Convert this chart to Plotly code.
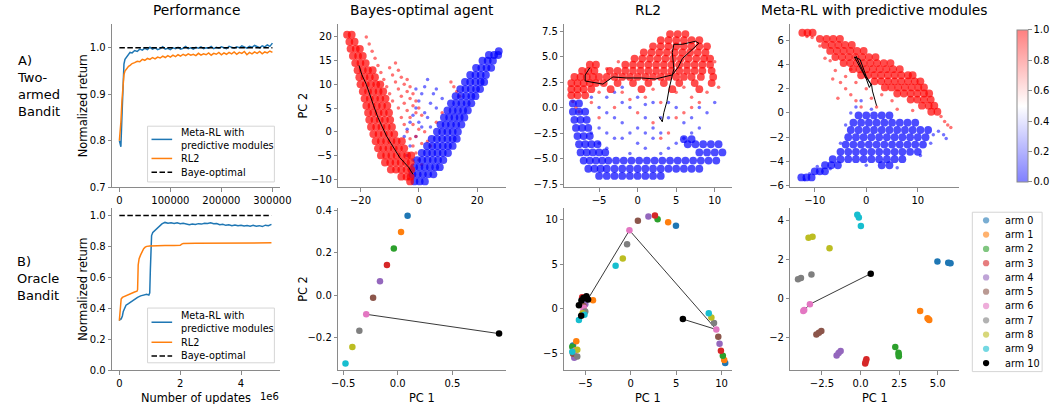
import plotly.graph_objects as go

W, H = 1060, 404
FONT = "DejaVu Sans"
SPINE = "#8a8a8a"


def px(x):
    return x / W


def py(y):
    return 1 - y / H


# ---------------- DATA ----------------
# A1: two-armed bandit performance (x = number of updates)
a1_x = [0, 1500, 3000, 5000, 7000, 9000, 11000, 13000, 15000, 18000, 21000, 25000, 30000, 35000, 40000] + list(range(45000, 300001, 5000))
a1_meta = [0.800, 0.790, 0.787, 0.850, 0.930, 0.965, 0.975, 0.978, 0.982, 0.986, 0.990, 0.989, 0.994, 0.992, 0.997,
           0.995, 0.999, 0.996, 1.001, 0.997, 1.000, 0.996, 0.998, 1.002, 0.997, 0.999, 0.996, 1.000, 0.998, 1.001,
           0.997, 0.999, 1.003, 0.998, 1.000, 0.997, 1.001, 0.999, 1.002, 0.998, 1.000, 0.999, 1.003, 0.998, 1.001,
           0.999, 1.002, 1.000, 0.998, 1.003, 1.001, 0.999, 1.002, 1.000, 1.004, 1.001, 0.999, 1.003, 1.001, 1.005,
           1.002, 1.000, 1.004, 1.002, 1.006, 1.003, 1.010]
a1_rl2 = [0.800, 0.815, 0.840, 0.885, 0.925, 0.942, 0.950, 0.953, 0.957, 0.960, 0.962, 0.966, 0.968, 0.971, 0.970,
          0.975, 0.973, 0.977, 0.975, 0.979, 0.976, 0.980, 0.978, 0.982, 0.979, 0.983, 0.980, 0.984, 0.981, 0.985,
          0.982, 0.986, 0.983, 0.987, 0.984, 0.986, 0.983, 0.988, 0.984, 0.987, 0.985, 0.989, 0.984, 0.988, 0.986,
          0.990, 0.985, 0.989, 0.986, 0.990, 0.987, 0.991, 0.986, 0.990, 0.988, 0.992, 0.985, 0.990, 0.987, 0.991,
          0.988, 0.992, 0.987, 0.991, 0.989, 0.993, 0.990]
a1_opt_x = [0, 300000]
a1_opt_y = [1.0, 1.0]

# B1: oracle bandit performance (x in millions of updates)
b1_meta_x = [0, 0.03, 0.06, 0.1, 0.13, 0.17, 0.22, 0.3, 0.4, 0.5, 0.6, 0.7, 0.8, 0.9, 0.97, 1.0, 1.02, 1.04, 1.06, 1.1,
             1.2, 1.3, 1.4, 1.5, 1.6, 1.7, 1.8, 1.9, 2.0, 2.1, 2.2, 2.3, 2.4, 2.5, 2.6, 2.7, 2.8, 2.9, 3.0, 3.1,
             3.2, 3.3, 3.4, 3.5, 3.6, 3.7, 3.8, 3.9, 4.0, 4.1, 4.2, 4.3, 4.4, 4.5, 4.6, 4.7, 4.8, 4.9, 5.0]
b1_meta_y = [0.32, 0.33, 0.33, 0.35, 0.38, 0.40, 0.42, 0.43, 0.445, 0.46, 0.47, 0.48, 0.485, 0.49, 0.485, 0.50, 0.65, 0.80, 0.87, 0.89,
             0.91, 0.93, 0.945, 0.955, 0.950, 0.952, 0.948, 0.953, 0.946, 0.950, 0.944, 0.940, 0.945, 0.942, 0.947, 0.944, 0.950, 0.948, 0.952, 0.946,
             0.948, 0.940, 0.943, 0.936, 0.940, 0.934, 0.938, 0.933, 0.937, 0.932, 0.935, 0.931, 0.936, 0.930, 0.934, 0.928, 0.937, 0.933, 0.942]
b1_rl2_x = [0, 0.03, 0.06, 0.1, 0.2, 0.3, 0.4, 0.5, 0.58, 0.6, 0.62, 0.65, 0.7, 0.75, 0.8, 0.85, 0.9, 1.0, 1.2, 1.5,
            1.8, 2.0, 2.05, 2.1, 2.5, 3.0, 3.5, 4.0, 4.5, 5.0]
b1_rl2_y = [0.32, 0.40, 0.46, 0.47, 0.48, 0.49, 0.50, 0.505, 0.51, 0.52, 0.68, 0.72, 0.745, 0.77, 0.785, 0.795, 0.80, 0.803, 0.805, 0.806,
            0.806, 0.807, 0.815, 0.818, 0.820, 0.821, 0.822, 0.822, 0.822, 0.823]
b1_opt_x = [0, 5.0]
b1_opt_y = [1.0, 1.0]

# A2: Bayes-optimal agent hidden-state PCA; dense cores given as (PC2, [PC1 ...]) rows
a2_red_dense = [(20.5, [-24.6, -23.0]), (19.0, [-23.8, -22.0]), (17.5, [-23.4, -21.6, -20.2]),
                (16.0, [-22.6, -20.8, -19.2]), (14.5, [-21.8, -20.0, -18.2]), (13.0, [-21.0, -19.2, -17.4, -15.8]),
                (11.5, [-20.4, -18.6, -16.8, -15.0]), (10.0, [-20.0, -18.2, -16.4, -14.6, -13.2]),
                (8.5, [-19.2, -17.4, -15.6, -13.8, -12.2]), (7.0, [-18.6, -16.8, -15.0, -13.2, -11.4]),
                (5.5, [-18.0, -16.2, -14.4, -12.6, -10.8]), (4.0, [-17.4, -15.6, -13.8, -12.0, -10.2]),
                (2.5, [-17.0, -15.2, -13.4, -11.6, -9.8]), (1.0, [-16.4, -14.6, -12.8, -11.0, -9.2]),
                (-0.5, [-15.6, -13.8, -12.0, -10.2, -8.4]), (-2.0, [-14.8, -13.0, -11.2, -9.4, -7.6, -5.8]),
                (-3.5, [-14.0, -12.2, -10.4, -8.6, -6.8, -5.0]), (-5.0, [-13.0, -11.2, -9.4, -7.6, -5.8, -4.0, -2.6]),
                (-6.5, [-11.6, -9.8, -8.0, -6.2, -4.4, -2.8]), (-8.0, [-9.6, -7.8, -6.0, -4.2, -2.6]),
                (-9.5, [-6.0, -4.2, -2.8]), (-10.5, [-3.0])]
a2_red_sparse = [(-18, 20), (-17, 18.5), (-16, 17), (-15, 15.5), (-14, 14), (-13, 12.5), (-12, 11), (-11, 9.5), (-10, 8),
                 (-9, 6.5), (-8, 14.5), (-7, 13), (-6, 11.5), (-5, 10), (-4, 8.5), (-3, 7), (-2, 5.5), (-1, 4),
                 (-10, 13.5), (-9, 12), (-8, 10.5), (-7, 9), (-6, 7.5), (-5, 6), (-4, 4.5), (-3, 3), (-2, 1.5),
                 (-4, 11), (-3, 9.5), (-2, 8), (-1, 6.5), (0, 5), (1, 3.5), (-7, 5), (-6, 3), (-5, 1.5), (-4, 0),
                 (-3, -1.5), (-2, -3), (-1, -4.5), (0, -6), (1, -7), (11, 10.5), (12, 9.5), (13, 8.5), (14, 7.5),
                 (2, 0), (3, -2), (4, -3), (6, 2), (8, 4), (-1, -1), (0, 0.5), (1, -2.5)]
a2_blue_dense = [(-10.5, [-1.5, 0.3, 2.1]), (-9.0, [-2.2, -0.4, 1.4, 3.2, 5.0]),
                 (-7.5, [-1.6, 0.2, 2.0, 3.8, 5.6, 7.2]), (-6.0, [-0.6, 1.2, 3.0, 4.8, 6.6, 8.4]),
                 (-4.5, [1.0, 2.8, 4.6, 6.4, 8.2, 10.0]), (-3.0, [2.8, 4.6, 6.4, 8.2, 10.0, 11.6]),
                 (-1.5, [4.4, 6.2, 8.0, 9.8, 11.6, 13.0]), (0.0, [6.2, 8.0, 9.8, 11.6, 13.4]),
                 (1.5, [7.4, 9.2, 11.0, 12.8, 14.6]), (3.0, [8.6, 10.4, 12.2, 14.0, 15.6]),
                 (4.5, [9.8, 11.6, 13.4, 15.2, 16.8]), (6.0, [11.0, 12.8, 14.6, 16.4, 18.0]),
                 (7.5, [12.6, 14.4, 16.2, 18.0, 19.4]), (9.0, [14.2, 16.0, 17.8, 19.6, 21.0]),
                 (10.5, [15.8, 17.6, 19.4, 21.2, 22.4]), (12.0, [17.6, 19.4, 21.2, 23.0]),
                 (13.5, [19.6, 21.4, 23.2, 24.8]), (15.0, [21.8, 23.6, 25.4]), (16.2, [24.0, 25.8, 27.2]),
                 (17.0, [27.4])]
a2_blue_sparse = [(3, 11), (2, 9.5), (1, 8), (0, 6.5), (-1, 5), (-2, 3.5), (-3, 2), (-4, 0.5), (-5, -1), (4, 6), (5, 8),
                  (6, 5), (8, 7), (1, 1), (-1, -1), (3, 3), (-3, -3), (-4, -5), (2, 4), (0, 2), (-2, -6), (-3, -8),
                  (4, 1), (6, 9), (-1, 9)]
a2_traj = [(-20.5, 14), (-19.5, 12), (-18, 10), (-17, 8), (-15.5, 5.5), (-14, 3), (-12.5, 1), (-11, -1), (-9.5, -2.5),
           (-8, -4), (-6.5, -5.5), (-5, -6.5), (-3.5, -7.5), (-2.5, -8.5), (-2, -9)]

# A3: RL2 hidden-state PCA
a3_red_dense = [(7.2, [4.2, 5.2, 6.2]), (6.6, [3.0, 4.0, 5.0, 6.0, 7.0, 8.0]),
                (6.0, [2.0, 3.0, 4.0, 5.0, 6.0, 7.0, 8.0, 9.0]),
                (5.4, [0.8, 1.8, 2.8, 3.8, 4.8, 5.8, 6.8, 7.8, 8.8]),
                (4.8, [-0.4, 0.6, 1.6, 2.6, 3.6, 4.6, 5.6, 6.6, 7.6, 8.6, 9.4]),
                (4.2, [-6.2, -5.4, -1.6, -0.6, 0.4, 1.4, 2.4, 3.4, 4.4, 5.4, 6.4, 7.4, 8.4, 9.4]),
                (3.6, [-7.2, -6.4, -5.6, -3.6, -2.6, -1.6, -0.6, 0.4, 1.4, 2.4, 3.4, 4.4, 5.4, 6.4, 7.4, 8.4, 9.6]),
                (3.0, [-8.2, -7.4, -6.6, -5.8, -5.0, -4.0, -3.0, -2.0, -1.0, 0.0, 1.0, 2.0, 3.0, 4.0, 5.0, 6.0, 7.0, 8.2, 9.8]),
                (2.4, [-8.6, -7.8, -7.0, -6.2, -5.4, -4.4, -2.6, -0.6, 1.4, 3.4, 5.4, 7.4, 9.6]),
                (1.8, [-8.6, -7.8, -7.0, -6.0, -3.5, 0.5, 4.5, 8.0]), (1.2, [-8.6, -7.8, -6.8])]
a3_red_sparse = [(-8.4, 0.6), (-8.0, 0.0), (-7.6, -0.4), (-5, 1.5), (-2, 1.5), (1, 1), (3, 0.5), (5, 1.5), (7, 1),
                 (9, 1.5), (-3, 0), (0, -0.5), (5, -1), (7, 0), (2, -1.5), (-5, -1), (4, -2.5), (6, -0.5), (-1, 0.8),
                 (2, 1.8), (6, 2), (10.5, 2), (-6, 0.5), (8, 0.5), (3, -3), (10, 4.5), (-4, 3.8), (-2.5, 4.5)]
a3_blue_dense = [(0.4, [-8.4, -7.6]), (-0.4, [-8.4, -7.6, -6.8]), (-1.2, [-8.2, -7.4, -6.6]), (-2.0, [-8.0, -7.2, -6.4]),
                 (-2.8, [-7.8, -7.0, -6.2]), (-3.1, [6.0, 7.0]),
                 (-3.6, [-7.6, -6.8, -6.0, -5.2, 6.5, 7.5, 8.5, 9.5, 10.5]),
                 (-4.4, [-7.4, -6.6, -5.8, -5.0, -4.2, 8.0, 9.0, 10.0, 11.0]),
                 (-5.2, [-7.0, -6.2, -5.4, -4.6, -3.8, -2.8, -1.8, -0.8, 0.2, 1.2, 2.2, 3.2, 4.2, 5.2, 6.2, 7.2, 8.2, 9.2, 10.2]),
                 (-6.0, [-6.4, -5.6, -4.8, -4.0, -3.0, -2.0, -1.0, 0.0, 1.0, 2.0, 3.0, 4.0, 5.0, 6.0, 7.0, 8.0]),
                 (-6.7, [-5.0, -4.0, -3.0, -2.0, -1.0, 0.0, 1.0, 2.0, 3.0])]
a3_blue_sparse = [(-5, -2), (-4, -4), (-3, -1), (-2, -3), (-1, 0), (0, -2), (1, -4), (2, -3), (3, -1), (4, -4), (5, -3.5),
                  (6, -1.5), (7, -2.5), (-4, 1), (-2, 2), (0, 1), (2, 0.5), (1, -1), (-6, 1), (-5, 0), (3, -4.5),
                  (-1, -4.5), (-3, -3), (5, 0), (8, -2), (9, -0.5), (10, 0.5), (-4, -2.5), (-6, -2.5), (-2, -1.5),
                  (0, -3.5), (2, -2), (4, -1), (6, -3), (-1, -2.5), (1, -2.5), (3, -2.5), (-3, 1.5), (-5, -3.5),
                  (7, -1), (8, 0), (-2, 0.5), (4, 0.5), (-4, -0.5), (1, 0.3)]
a3_traj = [(-6.2, 3.9), (-6.8, 3.2), (-6.8, 2.6), (-5.5, 2.4), (-4.5, 2.3), (-3.2, 3.0), (-1.5, 2.9), (0.5, 2.9),
           (2.3, 2.8), (4.5, 3.2), (5.3, 4.0), (5.8, 4.8), (7.1, 5.7), (7.95, 6.3), (7.5, 6.5), (5.8, 6.2), (4.7, 6.2),
           (4.5, 5.4), (4.7, 3.8), (4.1, 1.9), (3.8, 0.6), (3.4, -0.5), (3.2, -1.4), (2.8, -0.9)]

# A4: Meta-RL with predictive modules hidden-state PCA
a4_red_dense = [(6.6, [-12.4, -11.4, -10.4]), (6.1, [-9.0, -7.7, -6.4, -5.1]),
                (5.6, [-8.0, -6.7, -5.4, -4.1, -2.8]), (5.1, [-7.0, -5.7, -4.4, -3.1, -1.8, -0.5]),
                (4.6, [-6.0, -4.7, -3.4, -2.1, -0.8, 0.5, 1.8]),
                (4.1, [-4.4, -3.1, -1.8, -0.5, 0.8, 2.1, 3.4, 4.7]),
                (3.6, [-2.6, -1.3, 0.0, 1.3, 2.6, 3.9, 5.2, 6.5]),
                (3.1, [-1.0, 0.3, 1.6, 2.9, 4.2, 5.5, 6.8, 8.1, 9.0]),
                (2.6, [1.6, 2.9, 4.2, 5.5, 6.8, 8.1, 9.4, 10.5]), (2.1, [3.6, 4.9, 6.2, 7.5, 8.8, 10.1, 11.2]),
                (1.6, [6.0, 7.3, 8.6, 9.9, 11.2, 12.2]), (1.1, [8.6, 9.9, 11.2, 12.5]), (0.6, [10.8, 12.1, 13.2]),
                (0.1, [12.6, 13.8])]
a4_red_sparse = [(-7, 4.3), (-6, 3.5), (-5, 2.5), (-4, 2), (-3, 1.5), (-2, 1), (-4, 3), (-2, 2.5), (0, 2), (1, 1.2),
                 (3, 1.5), (5, 1), (2, 0.5), (-5.5, 1.2), (-8, 4.5), (-6.5, 2.8), (14.5, -0.3), (15.2, -0.7),
                 (15.8, -1.0), (16.4, -1.2), (-1, 0.5), (6, 0.3), (9, 0.2), (-3, 3.6), (-9, 5.5), (-10.5, 6.2),
                 (-11.5, 6.3)]
a4_blue_dense = [(-0.2, [-1.5, 0.0, 1.5, 3.0, 4.5]), (-0.8, [-2.5, -1.0, 0.5, 2.0, 3.5, 5.0, 6.5, 8.0, 9.5]),
                 (-1.4, [-3.0, -1.5, 0.0, 1.5, 3.0, 4.5, 6.0, 7.5, 9.0, 10.5, 12.0]),
                 (-2.0, [-3.5, -2.0, -0.5, 1.0, 2.5, 4.0, 5.5, 7.0, 8.5, 10.0, 11.5]),
                 (-2.6, [-4.0, -2.5, -1.0, 0.5, 2.0, 3.5, 5.0, 6.5, 8.0, 9.5, 11.0]),
                 (-3.2, [-5.0, -3.5, -2.0, -0.5, 1.0, 2.5, 4.0, 5.5, 7.0, 8.5, 10.0]),
                 (-3.8, [-6.5, -5.0, -3.5, -2.0, -0.5, 1.0, 2.5, 4.0, 5.5, 7.0]),
                 (-4.3, [-8.0, -6.8, -5.5, 3.0, 4.5]), (-4.8, [-10.0, -9.0, -8.0]), (-5.3, [-12.6, -11.6, -10.6])]
a4_blue_sparse = [(-12, -5.5), (-11, -5.0), (-7, -4.6), (-9.5, -4.4), (13, -1.8), (14, -1.5), (15, -1.8), (15.5, -2.1),
                  (-3, 0), (-2, 0.5), (-1, 1), (1, 0.3), (-4, -1), (-5, -2.5), (12.5, -2.5), (6, -4.5), (0, -4.3),
                  (10.5, -3.5)]
a4_traj = [(-2, 4.7), (-1.5, 4.2), (-0.5, 3.3), (0.5, 2.6), (1, 2.3), (0, 3), (-1.2, 4.4), (-2.3, 4.6), (-1, 3.6),
           (0, 2.8), (0.6, 2.1), (1, 2.4), (1.2, 1.8), (1.6, 1.2), (2, 0.6)]

# Bottom row: arm embeddings (arm index, PC1, PC2)
b2_arm = [0, 1, 2, 3, 4, 5, 6, 7, 8, 9, 10]
b2_x = [0.09, 0.03, -0.036, -0.099, -0.163, -0.226, -0.289, -0.352, -0.416, -0.479, 0.928]
b2_y = [0.375, 0.298, 0.221, 0.143, 0.066, -0.011, -0.089, -0.166, -0.243, -0.321, -0.18]
b2_traj_x = [-0.289, 0.928]
b2_traj_y = [-0.089, -0.18]

b3_pts = [(5, 0.79, 9.89), (4, 1.95, 10.37), (3, 2.67, 10.48), (2, 2.96, 10.07), (1, 4.12, 9.74), (0, 4.98, 9.34),
          (6, -0.14, 8.83), (7, -0.40, 7.26), (8, -0.87, 5.65), (9, -1.66, 4.84),
          (9, 8.59, -0.50), (8, 8.88, -0.98), (7, 9.17, -1.60), (6, 9.42, -2.33), (5, 9.64, -3.14), (4, 9.78, -3.94),
          (3, 9.93, -4.71), (2, 10.14, -5.29), (1, 10.29, -5.77), (0, 10.4, -6.1), (10, 5.74, -1.16),
          (0, -5.25, 1.0), (1, -4.15, 0.96), (2, -5.1, 0.8), (3, -5.34, 1.29), (4, -5.0, 0.5), (5, -5.2, 0.3),
          (6, -5.16, 0.12), (6, -5.2, -0.2), (7, -5.0, -0.3), (8, -5.3, -0.5), (9, -5.09, -0.68), (9, -5.70, -1.27),
          (10, -4.87, 1.40), (10, -4.69, 1.04), (10, -5.42, 0.93), (10, -5.70, 0.41), (10, -5.45, -0.79), (10, -5.2, 1.2),
          (1, -5.99, -3.65), (0, -6.35, -4.12), (2, -6.43, -4.27), (8, -5.88, -4.60), (9, -6.43, -4.82),
          (3, -6.3, -4.95), (5, -6.35, -5.07), (7, -5.88, -5.37), (4, -6.21, -5.51), (6, -6.1, -4.7)]
b3_arm = [p[0] for p in b3_pts]
b3_x = [p[1] for p in b3_pts]
b3_y = [p[2] for p in b3_pts]
b3_traj_x = [-4.7, -0.14, 9.42, 5.74]
b3_traj_y = [1.1, 8.83, -2.33, -1.16]

b4_pts = [(0, 4.98, 1.89), (0, 5.68, 1.82), (0, 5.83, 1.80), (0, 5.75, 1.81),
          (1, 3.86, -0.63), (1, 4.34, -1.0), (1, 4.45, -1.09), (1, 4.40, -1.05),
          (2, 2.25, -2.47), (2, 2.46, -2.77), (2, 2.48, -2.94), (2, 2.47, -2.85),
          (3, 0.38, -3.09), (3, 0.30, -3.31), (3, 0.34, -3.2),
          (4, -1.29, -2.67), (4, -1.55, -2.9), (4, -1.42, -2.78),
          (5, -2.54, -1.66), (5, -2.86, -1.83), (5, -2.70, -1.75),
          (6, -3.28, -0.29), (6, -3.71, -0.63), (6, -3.65, -0.58),
          (7, -3.18, 1.22), (7, -3.86, 1.05), (7, -4.05, 0.98),
          (8, -2.01, 2.56), (8, -3.11, 3.15), (8, -3.37, 3.10),
          (9, 0.02, 3.70), (9, -0.21, 4.27), (9, -0.11, 4.13),
          (10, 0.66, 1.27)]
b4_arm = [p[0] for p in b4_pts]
b4_x = [p[1] for p in b4_pts]
b4_y = [p[2] for p in b4_pts]
b4_traj_x = [0.66, -3.28, -3.71]
b4_traj_y = [1.27, -0.29, -0.63]

arm_labels = ["arm %d" % i for i in range(11)]
arm_colors = ["#1f77b4", "#ff7f0e", "#2ca02c", "#d62728", "#9467bd", "#8c564b",
              "#e377c2", "#7f7f7f", "#bcbd22", "#17becf", "#000000"]

# ---------------- FIGURE ----------------
fig = go.Figure()

cols = [(107, 278), (337, 508), (567, 738), (797, 968)]
rows = [(21.7, 188.3), (210, 375.5)]


def base_axis():
    return dict(showline=True, linecolor=SPINE, linewidth=1, ticks="outside", ticklen=3.5, tickwidth=1,
                tickcolor=SPINE, showgrid=False, zeroline=False, fixedrange=True,
                tickfont=dict(size=10, color="black", family=FONT))


def neg(v):
    return [s.replace("-", "\u2212") for s in v]


axes_cfg = {
    1: (0, 0, [-14066, 315400], [0, 100000, 200000, 300000], ["0", "100000", "200000", "300000"],
        [0.7, 1.0507], [0.7, 0.8, 0.9, 1.0], ["0.7", "0.8", "0.9", "1.0"]),
    2: (1, 0, [-27.6, 30.0], [-20, 0, 20], neg(["-20", "0", "20"]),
        [-11.7, 22.7], [-10, -5, 0, 5, 10, 15, 20], neg(["-10", "-5", "0", "5", "10", "15", "20"])),
    3: (2, 0, [-9.5, 12.3], [-5, 0, 5, 10], neg(["-5", "0", "5", "10"]),
        [-7.8, 8.17], [-7.5, -5, -2.5, 0, 2.5, 5, 7.5], neg(["-7.5", "-5.0", "-2.5", "0.0", "2.5", "5.0", "7.5"])),
    4: (3, 0, [-14.7, 17.9], [-10, 0, 10], neg(["-10", "0", "10"]),
        [-6.1, 7.3], [-6, -4, -2, 0, 2, 4, 6], neg(["-6", "-4", "-2", "0", "2", "4", "6"])),
    5: (0, 1, [-0.235, 5.29], [0, 2, 4], ["0", "2", "4"],
        [0, 1.046], [0, 0.2, 0.4, 0.6, 0.8, 1.0], ["0.0", "0.2", "0.4", "0.6", "0.8", "1.0"]),
    6: (1, 1, [-0.545, 0.995], [-0.5, 0, 0.5], neg(["-0.5", "0.0", "0.5"]),
        [-0.352, 0.41], [-0.2, 0, 0.2, 0.4], neg(["-0.2", "0.0", "0.2", "0.4"])),
    7: (2, 1, [-7.3, 11.2], [-5, 0, 5, 10], neg(["-5", "0", "5", "10"]),
        [-6.9, 11.3], [-5, 0, 5, 10], neg(["-5", "0", "5", "10"])),
    8: (3, 1, [-4.54, 6.35], [-2.5, 0, 2.5, 5], neg(["-2.5", "0.0", "2.5", "5.0"]),
        [-3.65, 4.6], [-2, 0, 2, 4], neg(["-2", "0", "2", "4"])),
}

layout_axes = {}
for i, (c, r, xr, xtv, xtt, yr, ytv, ytt) in axes_cfg.items():
    sx = "" if i == 1 else str(i)
    xd = base_axis()
    xd.update(domain=[px(cols[c][0]), px(cols[c][1])], range=xr, tickvals=xtv, ticktext=xtt, anchor="y" + sx)
    yd = base_axis()
    yd.update(domain=[py(rows[r][1]), py(rows[r][0])], range=yr, tickvals=ytv, ticktext=ytt, anchor="x" + sx)
    layout_axes["xaxis" + sx] = xd
    layout_axes["yaxis" + sx] = yd


def xy(i):
    s = "" if i == 1 else str(i)
    return "x" + s, "y" + s


def flat_rows(rows_):
    xs, ys = [], []
    for yv, xl in rows_:
        for xv in xl:
            xs.append(xv)
            ys.append(yv)
    return xs, ys


C_BLUE = "#1f77b4"
C_ORANGE = "#ff7f0e"
DASH = "5.5px,2.5px"

# Performance panels
xa, ya = xy(1)
fig.add_trace(go.Scatter(x=a1_x, y=a1_meta, mode="lines", line=dict(color=C_BLUE, width=1.5), xaxis=xa, yaxis=ya))
fig.add_trace(go.Scatter(x=a1_x, y=a1_rl2, mode="lines", line=dict(color=C_ORANGE, width=1.5), xaxis=xa, yaxis=ya))
fig.add_trace(go.Scatter(x=a1_opt_x, y=a1_opt_y, mode="lines", line=dict(color="black", width=1.5, dash=DASH),
                         xaxis=xa, yaxis=ya))
xa, ya = xy(5)
fig.add_trace(go.Scatter(x=b1_meta_x, y=b1_meta_y, mode="lines", line=dict(color=C_BLUE, width=1.5), xaxis=xa, yaxis=ya))
fig.add_trace(go.Scatter(x=b1_rl2_x, y=b1_rl2_y, mode="lines", line=dict(color=C_ORANGE, width=1.5), xaxis=xa, yaxis=ya))
fig.add_trace(go.Scatter(x=b1_opt_x, y=b1_opt_y, mode="lines", line=dict(color="black", width=1.5, dash=DASH),
                         xaxis=xa, yaxis=ya))

# Hidden-state clouds
panels = [(2, a2_red_dense, a2_red_sparse, a2_blue_dense, a2_blue_sparse, a2_traj),
          (3, a3_red_dense, a3_red_sparse, a3_blue_dense, a3_blue_sparse, a3_traj),
          (4, a4_red_dense, a4_red_sparse, a4_blue_dense, a4_blue_sparse, a4_traj)]
for i, rd, rs, bd, bs, traj in panels:
    xa, ya = xy(i)
    for col, sparse in [("#0000ff", bs), ("#ff0000", rs)]:
        fig.add_trace(go.Scatter(x=[p[0] for p in sparse], y=[p[1] for p in sparse], mode="markers",
                                 marker=dict(color=col, size=3.5, opacity=0.55, line=dict(width=0)),
                                 xaxis=xa, yaxis=ya))
    for col, dense in [("#0000ff", bd), ("#ff0000", rd)]:
        dx, dy = flat_rows(dense)
        fig.add_trace(go.Scatter(x=dx, y=dy, mode="markers",
                                 marker=dict(color=col, size=7.8, opacity=0.7, line=dict(width=0)),
                                 xaxis=xa, yaxis=ya))
    fig.add_trace(go.Scatter(x=[p[0] for p in traj], y=[p[1] for p in traj], mode="lines",
                             line=dict(color="black", width=1), xaxis=xa, yaxis=ya))

# Colorbar (faded bwr)
fig.add_trace(go.Scatter(x=[None], y=[None], mode="markers", xaxis="x4", yaxis="y4",
                         marker=dict(color=[0.0], cmin=0, cmax=1, showscale=True,
                                     colorscale=[[0, "#8080ff"], [0.5, "#ffffff"], [1, "#ff8080"]],
                                     colorbar=dict(x=px(1027), xanchor="left", y=py(183), yanchor="bottom",
                                                   len=155 / H, lenmode="fraction", thickness=11,
                                                   thicknessmode="pixels", outlinewidth=1, outlinecolor=SPINE,
                                                   xpad=0, ypad=0, ticks="outside", ticklen=3.5, tickcolor=SPINE,
                                                   tickvals=[0, 0.2, 0.4, 0.6, 0.8, 1.0],
                                                   ticktext=["0.0", "0.2", "0.4", "0.6", "0.8", "1.0"],
                                                   tickfont=dict(size=10, color="black", family=FONT)))))

# Arm embeddings
for i, ax_x, ax_y, ax_arm, tx, ty in [(6, b2_x, b2_y, b2_arm, b2_traj_x, b2_traj_y),
                                       (7, b3_x, b3_y, b3_arm, b3_traj_x, b3_traj_y),
                                       (8, b4_x, b4_y, b4_arm, b4_traj_x, b4_traj_y)]:
    xa, ya = xy(i)
    fig.add_trace(go.Scatter(x=tx, y=ty, mode="lines", line=dict(color="#222222", width=0.9), xaxis=xa, yaxis=ya))
    for a in range(11):
        xs = [x for x, k in zip(ax_x, ax_arm) if k == a]
        ys = [y for y, k in zip(ax_y, ax_arm) if k == a]
        fig.add_trace(go.Scatter(x=xs, y=ys, mode="markers",
                                 marker=dict(color=arm_colors[a], size=6.5, line=dict(width=0)),
                                 xaxis=xa, yaxis=ya))

# ---------------- ANNOTATIONS / LEGENDS ----------------
ann = []
shapes = []


def text(x, y, s, size, xanchor="center", yanchor="middle", angle=0, align="center"):
    ann.append(dict(x=px(x), y=py(y), xref="paper", yref="paper", text=s, showarrow=False, textangle=angle,
                    xanchor=xanchor, yanchor=yanchor, align=align,
                    font=dict(size=size, family=FONT, color="black")))


# titles
text(192.5, 7.5, "Performance", 13.8)
text(422.5, 7.5, "Bayes-optimal agent", 13.8)
text(652.5, 7.5, "RL2", 13.8)
text(882.5, 7.5, "Meta-RL with predictive modules", 13.8)
# row labels
text(8, 85, "A)<br>Two-<br>armed<br>Bandit", 13, xanchor="left", align="left")
text(8, 281.5, "B)<br>Oracle<br>Bandit", 13, xanchor="left", align="left")
# axis labels
text(77, 105, "Normalized return", 11.4, angle=-90)
text(77, 292.5, "Normalized return", 11.4, angle=-90)
text(301, 105, "PC 2", 11.4, angle=-90)
text(301, 292.5, "PC 2", 11.4, angle=-90)
text(192.5, 404, "Number of updates", 11.4)
text(266.7, 402, "1e6", 10)
for c in (1, 2, 3):
    text((cols[c][0] + cols[c][1]) / 2, 404, "PC 1", 11.4)

# performance legends
for (top, bot, yb, yo, yd) in [(126, 183, 139.5, 159, 173), (312, 368, 326.5, 347, 361)]:
    shapes.append(dict(type="rect", xref="paper", yref="paper", x0=px(143), x1=px(272), y0=py(bot), y1=py(top),
                       line=dict(color="#d5d5d5", width=1), fillcolor="rgba(255,255,255,0.85)", layer="above"))
    for yy, col, dash in [(yb, C_BLUE, "solid"), (yo, C_ORANGE, "solid"), (yd, "black", DASH)]:
        shapes.append(dict(type="line", xref="paper", yref="paper", x0=px(147), x1=px(168), y0=py(yy), y1=py(yy),
                           line=dict(color=col, width=1.5, dash=dash), layer="above"))
    text(175, yb, "Meta-RL with<br>predictive modules", 9.7, xanchor="left", align="left")
    text(175, yo, "RL2", 9.7, xanchor="left", align="left")
    text(175, yd, "Baye-optimal", 9.7, xanchor="left", align="left")

# arm legend
shapes.append(dict(type="rect", xref="paper", yref="paper", x0=px(982), x1=px(1053), y0=py(377), y1=py(214),
                   line=dict(color="#d5d5d5", width=1), fillcolor="white", layer="above"))
for a in range(11):
    yy = 222.3 + a * 14.6
    shapes.append(dict(type="circle", xref="paper", yref="paper", x0=px(996 - 3.2), x1=px(996 + 3.2),
                       y0=py(yy + 3.2), y1=py(yy - 3.2), fillcolor=arm_colors[a],
                       opacity=1.0 if a == 10 else 0.6, line=dict(width=0), layer="above"))
    text(1013, yy, arm_labels[a], 9.7, xanchor="left", align="left")

fig.update_layout(width=W, height=H, margin=dict(l=0, r=0, t=0, b=0), paper_bgcolor="white",
                  plot_bgcolor="white", showlegend=False, font=dict(family=FONT, color="black"),
                  annotations=ann, shapes=shapes, **layout_axes)

fig.write_html("out.html")
